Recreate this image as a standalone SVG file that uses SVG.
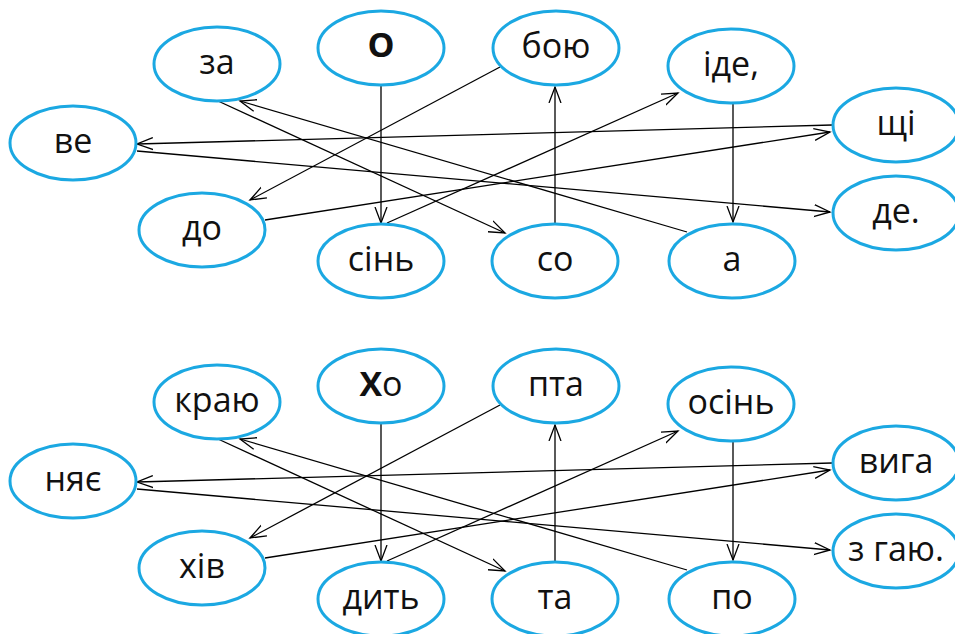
<svg xmlns="http://www.w3.org/2000/svg" width="955" height="634" viewBox="0 0 955 634">
<style>
.n ellipse{fill:#fff;stroke:#1ba8e2;stroke-width:3}
.n text{font-family:"Open Sans","Noto Sans","DejaVu Sans",sans-serif;font-size:34px;fill:#111;text-anchor:middle}
.b{font-weight:bold}
#edges line{stroke:#000;stroke-width:1.3;fill:none}
</style>
<defs>
<marker id="ah" markerWidth="20" markerHeight="14" refX="16" refY="7" orient="auto" markerUnits="userSpaceOnUse">
<path d="M0,1 L16,7 L0,13" fill="none" stroke="#000" stroke-width="1.3"/>
</marker>
</defs>
<g id="edges">
<line x1="381" y1="86" x2="381" y2="223" marker-end="url(#ah)"/>
<line x1="500" y1="67" x2="250" y2="200" marker-end="url(#ah)"/>
<line x1="218" y1="101" x2="505" y2="233" marker-end="url(#ah)"/>
<line x1="687" y1="232" x2="240" y2="101" marker-end="url(#ah)"/>
<line x1="832" y1="125" x2="137" y2="144" marker-end="url(#ah)"/>
<line x1="137" y1="151" x2="830" y2="212" marker-end="url(#ah)"/>
<line x1="265" y1="220" x2="830" y2="132" marker-end="url(#ah)"/>
<line x1="387" y1="223" x2="678" y2="93" marker-end="url(#ah)"/>
<line x1="555" y1="223" x2="555" y2="87" marker-end="url(#ah)"/>
<line x1="733" y1="104" x2="733" y2="222" marker-end="url(#ah)"/>
<line x1="381" y1="424" x2="381" y2="561" marker-end="url(#ah)"/>
<line x1="500" y1="405" x2="250" y2="538" marker-end="url(#ah)"/>
<line x1="218" y1="439" x2="505" y2="571" marker-end="url(#ah)"/>
<line x1="687" y1="570" x2="240" y2="439" marker-end="url(#ah)"/>
<line x1="832" y1="463" x2="137" y2="482" marker-end="url(#ah)"/>
<line x1="137" y1="489" x2="830" y2="550" marker-end="url(#ah)"/>
<line x1="265" y1="558" x2="830" y2="470" marker-end="url(#ah)"/>
<line x1="387" y1="561" x2="678" y2="431" marker-end="url(#ah)"/>
<line x1="555" y1="561" x2="555" y2="425" marker-end="url(#ah)"/>
<line x1="733" y1="442" x2="733" y2="560" marker-end="url(#ah)"/>
</g>
<g id="n-za" class="n"><ellipse cx="217" cy="64" rx="63" ry="37"/><text x="217" y="74">за</text></g>
<g id="n-o" class="n"><ellipse cx="381" cy="48" rx="63" ry="37"/><text x="381" y="57" class="b">О</text></g>
<g id="n-boyu" class="n"><ellipse cx="556" cy="48" rx="63" ry="37"/><text x="556" y="58">бою</text></g>
<g id="n-ide" class="n"><ellipse cx="731" cy="66" rx="63" ry="37"/><text x="731" y="76">іде,</text></g>
<g id="n-ve" class="n"><ellipse cx="73" cy="143" rx="63" ry="37"/><text x="73" y="153">ве</text></g>
<g id="n-shchi" class="n"><ellipse cx="896" cy="125" rx="63" ry="37"/><text x="896" y="135">щі</text></g>
<g id="n-do" class="n"><ellipse cx="202" cy="230" rx="63" ry="37"/><text x="202" y="240">до</text></g>
<g id="n-de" class="n"><ellipse cx="896" cy="213" rx="63" ry="37"/><text x="896" y="223">де.</text></g>
<g id="n-sin" class="n"><ellipse cx="381" cy="261" rx="63" ry="37"/><text x="381" y="271">сінь</text></g>
<g id="n-so" class="n"><ellipse cx="555" cy="261" rx="63" ry="37"/><text x="555" y="271">со</text></g>
<g id="n-a" class="n"><ellipse cx="732" cy="261" rx="63" ry="37"/><text x="732" y="271">а</text></g>
<g id="n-krayu" class="n"><ellipse cx="217" cy="402" rx="63" ry="37"/><text x="217" y="412">краю</text></g>
<g id="n-kho" class="n"><ellipse cx="381" cy="386" rx="63" ry="37"/><text x="381" y="396"><tspan class="b">Х</tspan>о</text></g>
<g id="n-pta" class="n"><ellipse cx="556" cy="386" rx="63" ry="37"/><text x="556" y="396">пта</text></g>
<g id="n-osin" class="n"><ellipse cx="731" cy="404" rx="63" ry="37"/><text x="731" y="414">осінь</text></g>
<g id="n-nyaye" class="n"><ellipse cx="73" cy="481" rx="63" ry="37"/><text x="73" y="491">няє</text></g>
<g id="n-vyha" class="n"><ellipse cx="896" cy="463" rx="63" ry="37"/><text x="896" y="473">вига</text></g>
<g id="n-khiv" class="n"><ellipse cx="202" cy="568" rx="63" ry="37"/><text x="202" y="578">хів</text></g>
<g id="n-zhayu" class="n"><ellipse cx="896" cy="551" rx="63" ry="37"/><text x="896" y="561">з гаю.</text></g>
<g id="n-dyt" class="n"><ellipse cx="381" cy="599" rx="63" ry="37"/><text x="381" y="609">дить</text></g>
<g id="n-ta" class="n"><ellipse cx="555" cy="599" rx="63" ry="37"/><text x="555" y="609">та</text></g>
<g id="n-po" class="n"><ellipse cx="732" cy="599" rx="63" ry="37"/><text x="732" y="609">по</text></g>
</svg>
